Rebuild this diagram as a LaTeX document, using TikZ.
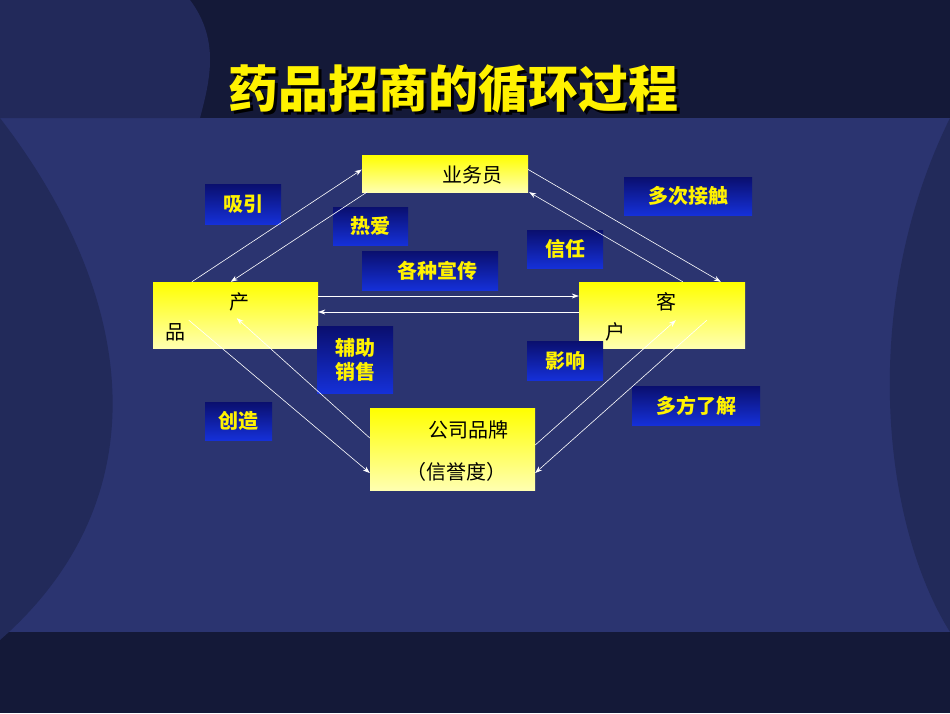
\documentclass[tikz,border=0pt]{standalone}
\usepackage{fontspec}
\newfontfamily\cjk{Noto Sans CJK SC}
\usetikzlibrary{arrows.meta}
\definecolor{navy}{HTML}{2B3470}
\definecolor{deepnavy}{HTML}{141938}
\definecolor{tagtop}{HTML}{0A0F6E}
\definecolor{tagbot}{HTML}{1530D8}
\definecolor{paleyellow}{HTML}{FFFFB0}
\begin{document}
\begin{tikzpicture}[
	x=1pt, y=-1pt,
	font=\cjk,
	yellowbox/.style={
		rectangle,
		inner sep=0pt,
		top color=yellow,
		bottom color=paleyellow
	},
	tag/.style={
		rectangle,
		inner sep=0pt,
		top color=tagtop,
		bottom color=tagbot,
		text=yellow,
		font=\cjk\bfseries\fontsize{20}{24}\selectfont
	},
	arr/.style={
		white,
		line width=0.6pt,
		-{Stealth[length=7pt,width=5pt]}
	}
]
% background
\fill[navy] (0,0) rectangle (950,713);
\fill[deepnavy] (0,0) rectangle (950,118);
\fill[deepnavy] (0,632) rectangle (950,713);
\fill[navy!60!deepnavy] (0,0) -- (190,0) .. controls (220,40) and (210,80) .. (200,118) -- (0,118) -- cycle;
\fill[navy!80!black] (0,118) .. controls (140,300) and (160,500) .. (0,640) -- cycle;
\fill[navy!80!black] (950,118) .. controls (860,300) and (880,520) .. (950,632) -- cycle;

% title
\node[text=yellow, font=\cjk\bfseries\fontsize{50}{60}\selectfont] (title) at (453,90)
	{\makebox[0pt][l]{\kern3pt\raisebox{-3pt}{\color{black}药品招商的循环过程}}药品招商的循环过程};

% main boxes
\node[yellowbox, minimum width=166, minimum height=37] (ye) at (445,173.5) {};
\node[font=\cjk\fontsize{20}{24}\selectfont] (yetext) at (472,175) {业务员};
\node[yellowbox, minimum width=165, minimum height=66] (prod) at (235.5,315) {};
\node[font=\cjk\fontsize{20}{24}\selectfont] (prod1) at (239,302) {产};
\node[font=\cjk\fontsize{20}{24}\selectfont] (prod2) at (175,332) {品};
\node[yellowbox, minimum width=166, minimum height=66] (cust) at (662,315) {};
\node[font=\cjk\fontsize{20}{24}\selectfont] (cust1) at (666,302) {客};
\node[font=\cjk\fontsize{20}{24}\selectfont] (cust2) at (615,332) {户};
\node[yellowbox, minimum width=165, minimum height=82] (comp) at (452.5,449) {};
\node[font=\cjk\fontsize{20}{24}\selectfont] (comp1) at (468,430) {公司品牌};
\node[font=\cjk\fontsize{20}{24}\selectfont] (comp2) at (456,472) {（信誉度）};

% tags
\node[tag, minimum width=76, minimum height=40] (attract) at (243,204) {吸引};
\node[tag, minimum width=75, minimum height=38] (love) at (370.5,226) {热爱};
\node[tag, minimum width=136, minimum height=39] (promo) at (430,270.5) {\hspace{14pt}各种宣传};
\node[tag, minimum width=76, minimum height=38] (trust) at (565,249) {信任};
\node[tag, minimum width=128, minimum height=38] (contact) at (688,196) {多次接触};
\node[tag, minimum width=76, minimum height=67, align=left] (assist) at (355,359.5) {辅助\\销售};
\node[tag, minimum width=76, minimum height=39] (impact) at (565,360.5) {影响};
\node[tag, minimum width=128, minimum height=39] (learn) at (696,405.5) {多方了解};
\node[tag, minimum width=67, minimum height=38] (create) at (238.5,421) {创造};

% connectors
\draw[arr] ([xshift=39pt]prod.north west) -- ([yshift=4pt]ye.west);
\draw[arr] ([xshift=5pt]ye.south west) -- ([xshift=78pt]prod.north west);
\draw[arr] ([yshift=4pt]ye.east) -- ([xshift=142pt]cust.north west);
\draw[arr] ([xshift=104pt]cust.north west) -- ([xshift=1pt]ye.south east);
\draw[arr] ([yshift=19pt]prod.east) -- ([yshift=19pt]cust.west);
\draw[arr] ([yshift=3pt]cust.west) -- ([yshift=3pt]prod.east);
\draw[arr] ([xshift=36pt,yshift=28pt]prod.south west) -- ([yshift=-24pt]comp.west);
\draw[arr] ([yshift=11pt]comp.west) -- ([xshift=84pt,yshift=30pt]prod.south west);
\draw[arr] ([yshift=4pt]comp.east) -- ([xshift=97pt,yshift=28pt]cust.south west);
\draw[arr] ([xshift=128pt,yshift=28pt]cust.south west) -- ([yshift=-24pt]comp.east);
\end{tikzpicture}
\end{document}
